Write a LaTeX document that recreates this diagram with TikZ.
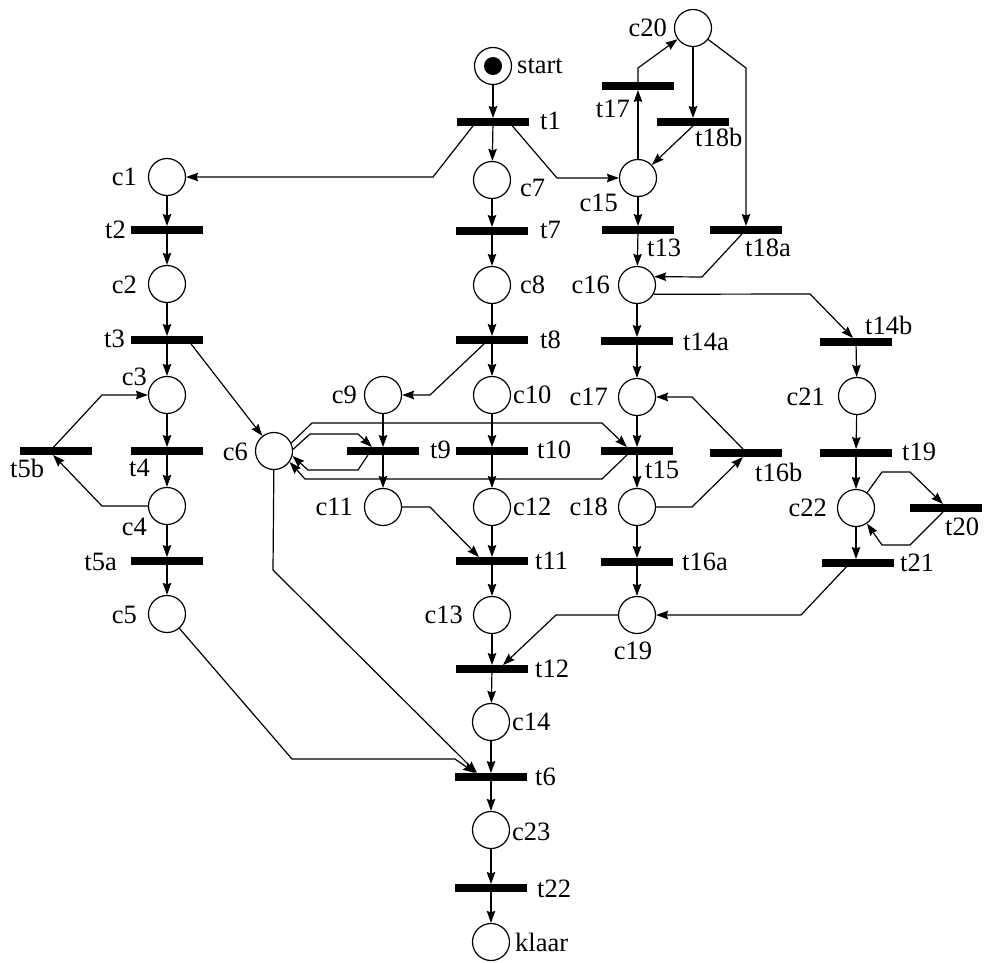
\documentclass[tikz,border=0pt]{standalone}
\usepackage{fontspec}
\setmainfont{Liberation Serif}
\usetikzlibrary{arrows.meta}
\begin{document}
\begin{tikzpicture}[x=1pt,y=-1pt,
 place/.style={circle,draw,line width=1.2pt,minimum size=37pt,inner sep=0pt},
 trans/.style={rectangle,fill=black,minimum width=72pt,minimum height=7.5pt,inner sep=0pt},
 flow/.style={line width=1.2pt,-{Stealth[length=12pt,width=8.5pt,inset=1.5pt]}},
 lbl/.style={inner sep=0pt,font=\fontsize{26.5}{28}\selectfont}]
\useasboundingbox (0,0) rectangle (990,963);
% places
\node[place] (start) at (493,66) {};
\fill (start) circle (9pt);
\node[place] (c1) at (167,177) {};
\node[place] (c2) at (167,284) {};
\node[place] (c3) at (167,395) {};
\node[place] (c4) at (167,506) {};
\node[place] (c5) at (167,614) {};
\node[place] (c6) at (274,451) {};
\node[place] (c7) at (492,180) {};
\node[place] (c8) at (492,285) {};
\node[place] (c9) at (383,395) {};
\node[place] (c10) at (492,395) {};
\node[place] (c11) at (383,507) {};
\node[place] (c12) at (492,507) {};
\node[place] (c13) at (492,615) {};
\node[place] (c14) at (491,722) {};
\node[place] (c23) at (491,830) {};
\node[place] (klaar) at (491,942) {};
\node[place] (c15) at (638,178) {};
\node[place] (c20) at (693,28) {};
\node[place] (c16) at (637,285) {};
\node[place] (c17) at (637,397) {};
\node[place] (c18) at (637,507) {};
\node[place] (c19) at (637,615) {};
\node[place] (c21) at (857,396) {};
\node[place] (c22) at (856,508) {};
% transitions
\node[trans] (t1) at (493,122) {};
\node[trans] (t2) at (167,230) {};
\node[trans] (t3) at (167,340) {};
\node[trans] (t4) at (167,451) {};
\node[trans] (t5b) at (56,451) {};
\node[trans] (t5a) at (167,561) {};
\node[trans] (t7) at (492,231) {};
\node[trans] (t8) at (492,340) {};
\node[trans] (t9) at (383,451) {};
\node[trans] (t10) at (492,451) {};
\node[trans] (t11) at (492,561) {};
\node[trans] (t12) at (492,669) {};
\node[trans] (t6) at (491,777) {};
\node[trans] (t22) at (491,888) {};
\node[trans] (t17) at (638,86) {};
\node[trans] (t18b) at (693,122) {};
\node[trans] (t13) at (638,230) {};
\node[trans] (t18a) at (746,230) {};
\node[trans] (t14a) at (637,341) {};
\node[trans] (t15) at (637,451) {};
\node[trans] (t16b) at (746,453) {};
\node[trans] (t16a) at (637,562) {};
\node[trans] (t14b) at (856,342) {};
\node[trans] (t19) at (856,453) {};
\node[trans] (t20) at (946,508) {};
\node[trans] (t21) at (858,563) {};
% labels
\node[lbl,anchor=west] (Lstart) at (517,66) {start};
\node[lbl,anchor=west] (Lt1) at (540,121) {t1};
\node[lbl,anchor=east] (Lc1) at (137,177) {c1};
\node[lbl,anchor=east] (Lt2) at (126,230) {t2};
\node[lbl,anchor=east] (Lc2) at (137,285) {c2};
\node[lbl,anchor=east] (Lt3) at (125,339) {t3};
\node[lbl,anchor=east] (Lc3) at (147,377) {c3};
\node[lbl,anchor=west] (Lt5b) at (10,468) {t5b};
\node[lbl,anchor=west] (Lt4) at (129,468) {t4};
\node[lbl,anchor=east] (Lc4) at (147,527) {c4};
\node[lbl,anchor=east] (Lt5a) at (117,562) {t5a};
\node[lbl,anchor=east] (Lc5) at (137,615) {c5};
\node[lbl,anchor=east] (Lc6) at (248,452) {c6};
\node[lbl,anchor=west] (Lc7) at (520,188) {c7};
\node[lbl,anchor=west] (Lt7) at (540,230) {t7};
\node[lbl,anchor=west] (Lc8) at (520,285) {c8};
\node[lbl,anchor=west] (Lt8) at (540,340) {t8};
\node[lbl,anchor=east] (Lc9) at (357,395) {c9};
\node[lbl,anchor=west] (Lc10) at (513,395) {c10};
\node[lbl,anchor=west] (Lt9) at (430,450) {t9};
\node[lbl,anchor=west] (Lt10) at (537,450) {t10};
\node[lbl,anchor=east] (Lc11) at (353,507) {c11};
\node[lbl,anchor=west] (Lc12) at (513,507) {c12};
\node[lbl,anchor=west] (Lt11) at (535,561) {t11};
\node[lbl,anchor=east] (Lc13) at (463,615) {c13};
\node[lbl,anchor=west] (Lt12) at (535,669) {t12};
\node[lbl,anchor=west] (Lc14) at (512,722) {c14};
\node[lbl,anchor=west] (Lt6) at (535,777) {t6};
\node[lbl,anchor=west] (Lc23) at (512,832) {c23};
\node[lbl,anchor=west] (Lt22) at (537,889) {t22};
\node[lbl,anchor=west] (Lklaar) at (515,942) {klaar};
\node[lbl,anchor=east] (Lc20) at (667,28) {c20};
\node[lbl,anchor=east] (Lt17) at (630,109) {t17};
\node[lbl,anchor=west] (Lt18b) at (695,137) {t18b};
\node[lbl,anchor=east] (Lc15) at (618,203) {c15};
\node[lbl,anchor=west] (Lt13) at (647,248) {t13};
\node[lbl,anchor=west] (Lt18a) at (745,248) {t18a};
\node[lbl,anchor=east] (Lc16) at (610,285) {c16};
\node[lbl,anchor=west] (Lt14a) at (683,342) {t14a};
\node[lbl,anchor=east] (Lc17) at (608,397) {c17};
\node[lbl,anchor=west] (Lt15) at (645,470) {t15};
\node[lbl,anchor=west] (Lt16b) at (755,472) {t16b};
\node[lbl,anchor=east] (Lc18) at (608,507) {c18};
\node[lbl,anchor=west] (Lt16a) at (682,562) {t16a};
\node[lbl] (Lc19) at (633,651) {c19};
\node[lbl,anchor=west] (Lt14b) at (865,325) {t14b};
\node[lbl,anchor=east] (Lc21) at (825,397) {c21};
\node[lbl,anchor=west] (Lt19) at (902,452) {t19};
\node[lbl,anchor=east] (Lc22) at (827,508) {c22};
\node[lbl,anchor=west] (Lt20) at (945,527) {t20};
\node[lbl,anchor=west] (Lt21) at (900,563) {t21};
% main column
\draw[flow] (start) -- (t1);
\draw[flow] (t1) -- (c7);
\draw[flow] (c7) -- (t7);
\draw[flow] (t7) -- (c8);
\draw[flow] (c8) -- (t8);
\draw[flow] (t8) -- (c10);
\draw[flow] (c10) -- (t10);
\draw[flow] (t10) -- (c12);
\draw[flow] (c12) -- (t11);
\draw[flow] (t11) -- (c13);
\draw[flow] (c13) -- (t12);
\draw[flow] (t12) -- (c14);
\draw[flow] (c14) -- (t6);
\draw[flow] (t6) -- (c23);
\draw[flow] (c23) -- (t22);
\draw[flow] (t22) -- (klaar);
% left column
\draw[flow] ([xshift=-17pt]t1.center) -- (433,177) -- (c1);
\draw[flow] (c1) -- (t2);
\draw[flow] (t2) -- (c2);
\draw[flow] (c2) -- (t3);
\draw[flow] (t3) -- (c3);
\draw[flow] (c3) -- (t4);
\draw[flow] (t4) -- (c4);
\draw[flow] (c4) -- (t5a);
\draw[flow] (t5a) -- (c5);
\draw[flow] ([xshift=-6pt]t5b.center) -- (102,395) -- (c3);
\draw[flow] (c4) -- (102,506) -- ([xshift=-3pt]t5b.south);
\draw[flow] ([xshift=21pt]t3.center) -- (c6);
% c6 to t6 and c5 to t6
\draw[flow] (c6) -- (273,570) -- ([xshift=-14pt]t6.north);
\draw[flow] (c5) -- (292,759) -- (455,759) -- ([xshift=-16pt]t6.north);
% c9, c11
\draw[flow] ([xshift=-8pt]t8.south) -- (430,395) -- (c9);
\draw[flow] (c9) -- (t9);
\draw[flow] (t9) -- (c11);
\draw[flow] (c11) -- (430,507) -- ([xshift=-13pt]t11.north);
% c6 loops with t9 and t15
\draw[flow] (c6.25) -- (312,423) -- (602,423) -- ([xshift=-10pt]t15.north);
\draw[flow] ([xshift=-10pt]t15.south) -- (602,479) -- (305,479) -- (c6.-35);
\draw[flow] (c6.5) -- (310,434) -- (358,434) -- ([xshift=-11pt]t9.north);
\draw[flow] ([xshift=-15pt]t9.south) -- (358,470) -- (308,470) -- (c6.-15);
% c15 column
\draw[flow] ([xshift=16pt]t1.center) -- (557,178) -- (c15);
\draw[flow] (c15) -- (t13);
\draw[flow] (t13) -- (c16);
\draw[flow] (c15) -- (t17);
\draw[flow] (t17.north) -- (638,68) -- (c20);
\draw[flow] (c20) -- (t18b);
\draw[flow] (t18b.south) -- (c15);
\draw[flow] (c20) -- (746,68) -- (t18a);
\draw[flow] ([xshift=-4pt]t18a.south) -- (702,277) -- (c16.26);
\draw[flow] (c16) -- (t14a);
\draw[flow] (t14a) -- (c17);
\draw[flow] (c17) -- (t15);
\draw[flow] (t15) -- (c18);
\draw[flow] (c18) -- (t16a);
\draw[flow] (t16a) -- (c19);
\draw[flow] (c18) -- (692,507) -- ([xshift=-3pt]t16b.south);
\draw[flow] ([xshift=-3pt]t16b.north) -- (692,397) -- (c17);
\draw[flow] (c19) -- (556,615) -- ([xshift=11pt]t12.north);
% right column
\draw[flow] (c16.-29) -- (810,294) -- ([xshift=-3pt]t14b.north);
\draw[flow] (t14b) -- (c21);
\draw[flow] (c21) -- (t19);
\draw[flow] (t19) -- (c22);
\draw[flow] (c22) -- ([xshift=-2pt]t21.north);
\draw[flow] (c22) -- (882,472) -- (910,472) -- ([xshift=-3pt]t20.north);
\draw[flow] ([xshift=-3pt]t20.south) -- (910,545) -- (882,545) -- (c22);
\draw[flow] ([xshift=-8pt]t21.center) -- (801,615) -- (c19);
\end{tikzpicture}
\end{document}
